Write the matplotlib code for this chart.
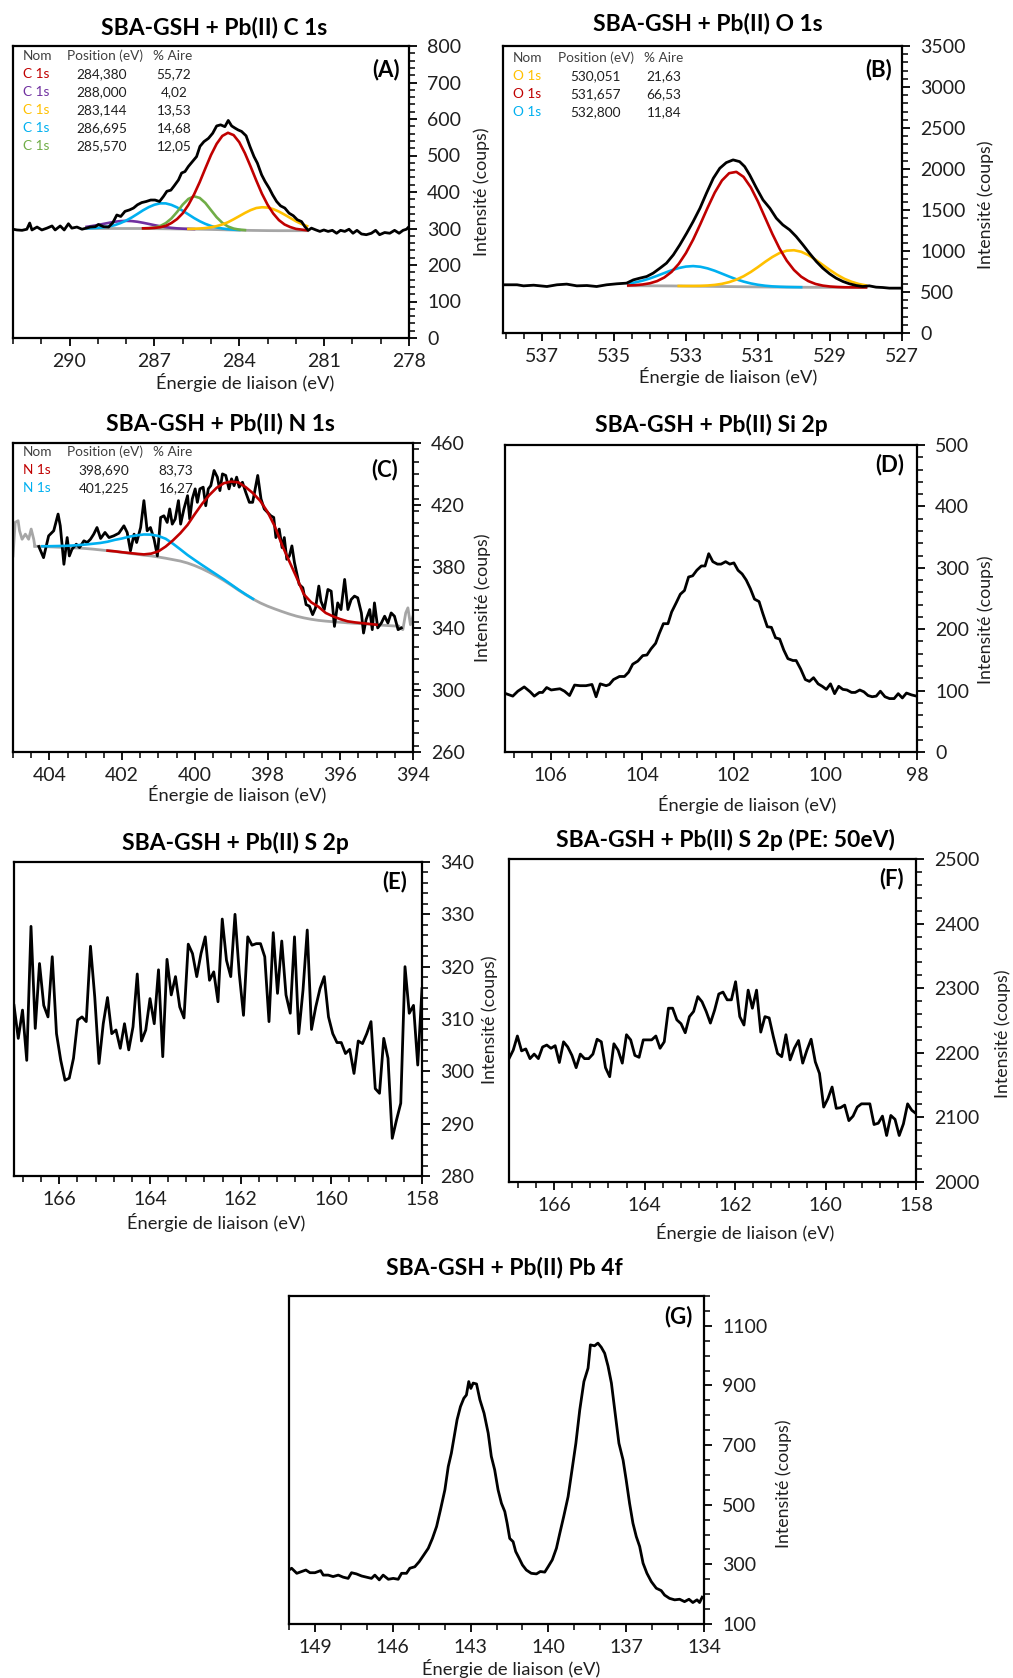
import numpy as np
import matplotlib
matplotlib.use("Agg")
import matplotlib.pyplot as plt
from matplotlib.ticker import MultipleLocator, FixedLocator

plt.rcParams['font.family'] = ['Lato', 'DejaVu Sans']

# ---------------- DATA ----------------
# Panel A : C 1s
a_e = [292.00, 291.86, 291.68, 291.51, 291.41, 291.33, 291.15, 290.98, 290.80, 290.62,
       290.51, 290.33, 290.19, 290.04, 289.92, 289.74, 289.56, 289.41, 289.27, 289.09,
       288.98, 288.80, 288.62, 288.47, 288.33, 288.19, 288.04, 287.88, 287.74, 287.60,
       287.45, 287.29, 287.13, 286.98, 286.82, 286.68, 286.56, 286.42, 286.31, 286.15,
       286.04, 285.92, 285.80, 285.65, 285.51, 285.39, 285.25, 285.09, 284.94, 284.80,
       284.66, 284.51, 284.39, 284.27, 284.15, 284.04, 283.92, 283.76, 283.62, 283.48,
       283.36, 283.21, 283.09, 282.94, 282.82, 282.68, 282.54, 282.39, 282.24, 282.09,
       281.95, 281.80, 281.68, 281.56, 281.45, 281.29, 281.15, 281.01, 280.86, 280.71,
       280.56, 280.42, 280.27, 280.12, 279.98, 279.84, 279.68, 279.51, 279.33, 279.18,
       279.04, 278.86, 278.68, 278.51, 278.35, 278.21, 278.09, 278.00]
a_i = [298, 296, 295, 298, 315, 296, 304, 296, 301, 307,
       296, 307, 296, 313, 301, 304, 298, 301, 304, 305,
       311, 305, 304, 316, 337, 333, 347, 351, 356, 365,
       371, 374, 378, 378, 374, 388, 402, 405, 416, 433,
       452, 456, 470, 484, 497, 525, 538, 547, 561, 581,
       584, 579, 596, 581, 575, 570, 566, 554, 524, 497,
       479, 447, 429, 410, 392, 374, 362, 356, 342, 335,
       324, 319, 305, 295, 301, 296, 292, 296, 292, 295,
       287, 295, 292, 298, 287, 295, 285, 283, 287, 295,
       283, 289, 287, 295, 287, 295, 298, 305]
a_grid = [289.4, 289.2, 289.0, 288.8, 288.6, 288.4, 288.2, 288.0, 287.8, 287.6,
          287.4, 287.2, 287.0, 286.8, 286.6, 286.4, 286.2, 286.0, 285.8, 285.6,
          285.4, 285.2, 285.0, 284.8, 284.6, 284.4, 284.2, 284.0, 283.8, 283.6,
          283.4, 283.2, 283.0, 282.8, 282.6, 282.4, 282.2, 282.0, 281.8, 281.6]
a_bg = [300, 300, 300, 300, 300, 300, 300, 300, 300, 300,
        300, 299.8, 299.6, 299.4, 299.2, 299.0, 298.8, 298.6, 298.4, 298.2,
        298.0, 297.7, 297.4, 297.0, 296.6, 296.2, 295.8, 295.4, 295.1, 294.8,
        294.6, 294.4, 294.2, 294.1, 294.0, 294.0, 294.0, 294.0, 294.0, 294.0]
a_red = [0, 0, 0, 0, 0, 0, 0, 0, 0, 0,
         0.5, 1, 2, 4, 8, 16, 27, 43, 66, 95,
         129, 167, 204, 235, 257, 266, 260, 241, 211, 175,
         137, 101, 71, 47, 29, 17, 10, 5, 3, 1]
a_purple = [4.6, 6.9, 9.6, 12.7, 15.7, 18.5, 20.3, 21, 20.3, 18.5,
            15.7, 12.7, 9.6, 6.9, 4.6, 2.8, 1.6, 0.9, 0.5, 0.2,
            0, 0, 0, 0, 0, 0, 0, 0, 0, 0,
            0, 0, 0, 0, 0, 0, 0, 0, 0, 0]
a_yellow = [0, 0, 0, 0, 0, 0, 0, 0, 0, 0,
            0, 0, 0, 0, 0, 0, 0, 0, 0.5, 1,
            2, 3.5, 6, 9.5, 14.5, 21, 29.5, 38.5, 47.5, 55.5,
            61.5, 63.8, 63.2, 59, 52.5, 44, 35, 26, 18.5, 12.3]
a_cyan = [0.5, 1, 1.8, 3.3, 5.8, 9.3, 14.8, 21.8, 30.3, 40,
          50, 58.8, 65.5, 69.5, 69.6, 65.7, 59, 50, 40.3, 30.5,
          22, 15, 9.5, 5.9, 3.4, 1.8, 1, 0.5, 0, 0,
          0, 0, 0, 0, 0, 0, 0, 0, 0, 0]
a_green = [0, 0, 0, 0, 0, 0, 0, 0, 0, 0,
           0.4, 1.1, 3, 7.3, 15.5, 28.5, 46.5, 66.8, 82.6, 90,
           85.8, 72.3, 52.9, 33.8, 19, 9.3, 4, 1.5, 0.5, 0,
           0, 0, 0, 0, 0, 0, 0, 0, 0, 0]
a_names = ['C 1s', 'C 1s', 'C 1s', 'C 1s', 'C 1s']
a_pos = ['284,380', '288,000', '283,144', '286,695', '285,570']
a_area = ['55,72', '4,02', '13,53', '14,68', '12,05']

# Panel B : O 1s
b_e = [538.05, 537.69, 537.51, 537.23, 536.86, 536.58, 536.31, 536.03, 535.75, 535.48,
       535.20, 534.92, 534.65, 534.46, 534.28, 534.09, 533.91, 533.72, 533.54, 533.35,
       533.17, 532.98, 532.80, 532.61, 532.43, 532.24, 532.06, 531.88, 531.69, 531.51,
       531.37, 531.23, 531.04, 530.86, 530.67, 530.49, 530.31, 530.12, 529.94, 529.75,
       529.57, 529.38, 529.20, 529.01, 528.83, 528.64, 528.46, 528.27, 528.09, 527.91,
       527.72, 527.54, 527.35, 527.17, 527.00]
b_i = [588, 588, 575, 583, 567, 588, 596, 575, 579, 567,
       588, 600, 608, 648, 669, 689, 730, 791, 852, 953,
       1075, 1217, 1359, 1522, 1705, 1887, 2009, 2078, 2111, 2090,
       2030, 1928, 1766, 1623, 1522, 1400, 1319, 1258, 1177, 1075,
       973, 872, 791, 722, 669, 628, 600, 579, 567, 575,
       559, 555, 547, 547, 547]
b_grid = [534.6, 534.4, 534.2, 534.0, 533.8, 533.6, 533.4, 533.2, 533.0, 532.8,
          532.6, 532.4, 532.2, 532.0, 531.8, 531.6, 531.4, 531.2, 531.0, 530.8,
          530.6, 530.4, 530.2, 530.0, 529.8, 529.6, 529.4, 529.2, 529.0, 528.8,
          528.6, 528.4, 528.2, 528.0]
b_bg = [576, 576, 576, 575.5, 575, 574.5, 574, 573, 572, 571,
        570, 569, 568, 567, 566, 565, 564, 563, 562, 561,
        560, 559.5, 559, 558.5, 558, 557.5, 557, 557, 556.5, 556.5,
        556, 556, 556, 556]
b_red = [3.5, 7.7, 16, 31, 58, 103, 171, 270, 403, 568,
         758, 957, 1144, 1293, 1383, 1400, 1340, 1214, 1041, 844,
         648, 470, 323, 210, 129, 75, 41, 21, 10.6, 5,
         2.2, 1, 0.3, 0.1]
b_yellow = [0, 0, 0, 0, 0, 0, 0, 0.5, 1, 2.4,
            5, 10, 18.5, 32.6, 54.4, 86, 128, 181, 242, 307,
            367, 416, 445, 451, 433, 393, 337, 274, 211, 153,
            105, 68.5, 42, 24.6]
b_cyan = [26, 41.7, 63, 90, 122.5, 157, 191, 219, 238, 245,
          238, 219, 191, 157, 122.5, 90, 63, 41.7, 26, 15.4,
          8.6, 4.5, 2.2, 1.1, 0.5, 0, 0, 0, 0, 0,
          0, 0, 0, 0]
b_names = ['O 1s', 'O 1s', 'O 1s']
b_pos = ['530,051', '531,657', '532,800']
b_area = ['21,63', '66,53', '11,84']

# Panel C : N 1s
c_e = [404.29, 404.16, 404.02, 403.88, 403.76, 403.70, 403.60, 403.51, 403.45, 403.38,
       403.26, 403.17, 403.05, 402.96, 402.87, 402.78, 402.69, 402.59, 402.47, 402.36,
       402.23, 402.09, 401.95, 401.86, 401.77, 401.67, 401.60, 401.49, 401.40, 401.31,
       401.22, 401.12, 401.03, 400.94, 400.85, 400.76, 400.69, 400.62, 400.54, 400.45,
       400.39, 400.30, 400.20, 400.14, 400.07, 399.99, 399.93, 399.86, 399.77, 399.70,
       399.63, 399.56, 399.47, 399.38, 399.31, 399.24, 399.15, 399.06, 398.99, 398.92,
       398.85, 398.78, 398.69, 398.60, 398.50, 398.41, 398.27, 398.18, 398.09, 398.00,
       397.91, 397.83, 397.77, 397.68, 397.60, 397.54, 397.47, 397.40, 397.33, 397.26,
       397.20, 397.13, 397.03, 396.94, 396.85, 396.76, 396.68, 396.59, 396.53, 396.44,
       396.34, 396.25, 396.16, 396.07, 395.98, 395.88, 395.79, 395.70, 395.61, 395.52,
       395.42, 395.36, 395.29, 395.19, 395.12, 395.06, 394.97, 394.87, 394.78, 394.69,
       394.60, 394.51, 394.41, 394.32]
c_i = [393.0, 385.8, 399.9, 403.2, 414.0, 406.4, 381.5, 398.8, 386.9, 391.2,
       394.5, 392.3, 396.7, 395.6, 397.7, 401.0, 405.3, 398.2, 402.1, 398.8,
       399.9, 401.6, 406.4, 402.1, 390.2, 401.0, 395.6, 405.3, 422.7, 403.2,
       405.3, 397.7, 386.9, 411.8, 412.9, 408.6, 417.3, 407.5, 410.8, 422.7,
       407.5, 417.3, 425.9, 410.8, 423.8, 430.3, 421.6, 430.3, 431.4, 419.4,
       430.3, 432.4, 442.2, 437.9, 429.2, 440.0, 439.0, 430.3, 436.8, 432.4,
       437.9, 431.4, 434.6, 428.1, 421.6, 421.6, 439.0, 423.8, 417.3, 415.1,
       412.9, 411.8, 398.8, 404.3, 392.3, 398.8, 384.7, 386.9, 393.4, 382.6,
       376.1, 368.5, 366.3, 355.4, 354.4, 348.9, 353.3, 367.4, 357.6, 352.2,
       365.2, 364.1, 341.3, 356.5, 352.2, 371.7, 352.2, 358.7, 360.9, 359.8,
       350.0, 337.0, 345.7, 352.2, 339.2, 356.5, 340.3, 343.5, 347.9, 343.5,
       350.0, 347.9, 339.2, 340.3]
c_edge_left_e = [405.0, 404.94, 404.86, 404.82, 404.75, 404.66, 404.57, 404.50, 404.43, 404.4]
c_edge_left_i = [386.9, 408.6, 409.7, 403.2, 397.7, 401.0, 397.7, 404.3, 397.7, 393.2]
c_edge_right_e = [394.4, 394.28, 394.20, 394.14, 394.07, 394.0]
c_edge_right_i = [341.4, 339.2, 350.0, 353.3, 342.4, 347.9]
c_grid = [404.4, 404.2, 404.0, 403.8, 403.6, 403.4, 403.2, 403.0, 402.8, 402.6,
          402.4, 402.2, 402.0, 401.8, 401.6, 401.4, 401.2, 401.0, 400.8, 400.6,
          400.4, 400.2, 400.0, 399.8, 399.6, 399.4, 399.2, 399.0, 398.8, 398.6,
          398.4, 398.2, 398.0, 397.8, 397.6, 397.4, 397.2, 397.0, 396.8, 396.6,
          396.4, 396.2, 396.0, 395.8, 395.6, 395.4, 395.2, 395.0, 394.8, 394.6,
          394.4]
c_bg = [393.2, 393.0, 392.8, 392.6, 392.4, 392.2, 392.0, 391.7, 391.3, 390.8,
        390.3, 389.8, 389.2, 388.6, 388.0, 387.4, 386.9, 386.2, 385.4, 384.5,
        383.6, 382.3, 380.6, 378.6, 376.3, 373.8, 371.0, 368.0, 364.8, 361.8,
        359.0, 356.5, 354.4, 352.6, 350.9, 349.3, 347.9, 346.8, 345.9, 345.2,
        344.7, 344.3, 344.0, 343.6, 343.3, 343.0, 342.7, 342.3, 342.0, 341.7,
        341.4]
c_red = [0, 0, 0, 0, 0, 0, 0, 0, 0, 0,
         0.05, 0.1, 0.1, 0.2, 0.3, 0.5, 1.5, 3.7, 7.6, 12.5,
         18, 24.7, 33.4, 42, 50, 57.2, 63, 67, 69.7, 69.6,
         68.5, 66, 61, 53.4, 43, 34, 25, 15.2, 11, 8.8,
         5.3, 3.5, 2, 1, 0.6, 0.4, 0.2, 0.1, 0, 0,
         0]
c_cyan = [0, 0.2, 0.4, 0.7, 1.0, 1.4, 1.9, 2.6, 3.5, 4.5,
          5.8, 7.5, 9.0, 10.8, 12.2, 13.4, 13.8, 13.6, 12.6, 10.3,
          7.6, 5.2, 3.6, 2.4, 1.6, 1.0, 0.7, 0.4, 0.3, 0.2,
          0.1, 0, 0, 0, 0, 0, 0, 0, 0, 0,
          0, 0, 0, 0, 0, 0, 0, 0, 0, 0,
          0]
c_names = ['N 1s', 'N 1s']
c_pos = ['398,690', '401,225']
c_area = ['83,73', '16,27']

# Panel D : Si 2p
d_e = [106.98, 106.83, 106.72, 106.58, 106.45, 106.36, 106.25, 106.18, 106.09, 105.99,
       105.90, 105.80, 105.70, 105.59, 105.48, 105.36, 105.23, 105.10, 105.01, 104.92,
       104.79, 104.72, 104.63, 104.50, 104.39, 104.30, 104.21, 104.10, 103.99, 103.90,
       103.81, 103.71, 103.63, 103.54, 103.44, 103.36, 103.26, 103.17, 103.08, 102.99,
       102.90, 102.81, 102.71, 102.63, 102.55, 102.46, 102.36, 102.28, 102.18, 102.09,
       102.00, 101.91, 101.82, 101.73, 101.64, 101.55, 101.45, 101.37, 101.27, 101.18,
       101.09, 101.00, 100.91, 100.82, 100.71, 100.64, 100.54, 100.44, 100.35, 100.26,
       100.16, 100.07, 99.98, 99.89, 99.80, 99.71, 99.62, 99.53, 99.43, 99.35,
       99.25, 99.16, 99.07, 98.98, 98.89, 98.80, 98.70, 98.60, 98.50, 98.41,
       98.32, 98.23, 98.12, 98.01]
d_i = [95, 91, 99, 106, 98, 91, 97, 97, 105, 101,
       102, 103, 99, 92, 109, 108, 108, 110, 90, 111,
       108, 110, 118, 123, 123, 130, 143, 148, 157, 158,
       168, 177, 193, 209, 209, 228, 243, 257, 263, 285,
       287, 296, 303, 303, 323, 310, 306, 306, 310, 306,
       308, 296, 290, 280, 266, 249, 245, 226, 204, 203,
       186, 184, 166, 152, 149, 149, 135, 118, 115, 121,
       111, 107, 102, 111, 95, 107, 102, 101, 97, 97,
       101, 98, 92, 90, 91, 99, 90, 87, 87, 95,
       88, 96, 93, 91]

# Panel E : S 2p
e_i = [312.6, 306.3, 311.7, 302.1, 327.7, 308.2, 320.6, 312.6, 310.4, 321.9,
       307.2, 302.1, 298.3, 298.7, 302.5, 309.8, 310.4, 309.5, 323.9, 314.2,
       301.5, 309.1, 314.1, 307.2, 307.9, 304.4, 309.1, 304.1, 308.5, 318.6,
       305.8, 307.9, 313.9, 309.1, 319.4, 302.8, 321.4, 314.6, 318.1, 312.3,
       310.2, 324.3, 322.5, 318.1, 322.5, 325.7, 317.4, 319.0, 313.3, 329.1,
       321.2, 318.1, 330.0, 318.7, 310.7, 325.7, 324.1, 324.4, 324.4, 321.9,
       309.5, 326.5, 314.9, 324.9, 314.6, 311.1, 325.7, 307.2, 315.5, 327.0,
       308.0, 312.3, 315.8, 318.1, 310.4, 307.2, 305.5, 305.5, 303.4, 304.2,
       299.6, 305.8, 305.3, 307.2, 309.5, 296.7, 295.8, 306.3, 302.5, 287.2,
       290.7, 293.9, 320.0, 311.1, 312.6, 301.2, 315.8]
e_e = np.linspace(167.0, 158.0, len(e_i))

# Panel F : S 2p (PE: 50eV)
f_i = [2191, 2204, 2226, 2203, 2206, 2191, 2198, 2191, 2209, 2212,
       2207, 2211, 2185, 2217, 2209, 2196, 2177, 2198, 2191, 2191,
       2198, 2221, 2217, 2177, 2163, 2214, 2204, 2184, 2228, 2220,
       2196, 2193, 2220, 2220, 2220, 2226, 2207, 2217, 2269, 2269,
       2251, 2245, 2231, 2256, 2264, 2287, 2279, 2264, 2246, 2266,
       2291, 2294, 2282, 2282, 2310, 2256, 2243, 2297, 2269, 2297,
       2232, 2256, 2254, 2225, 2199, 2194, 2228, 2189, 2207, 2219,
       2184, 2204, 2221, 2186, 2168, 2116, 2129, 2147, 2114, 2115,
       2119, 2095, 2102, 2116, 2121, 2121, 2121, 2089, 2091, 2102,
       2072, 2103, 2097, 2072, 2090, 2121, 2111, 2106]
f_e = np.linspace(167.0, 158.0, len(f_i))

# Panel G : Pb 4f
g_e = [150.00, 149.90, 149.70, 149.51, 149.35, 149.19, 149.00, 148.78, 148.68, 148.49,
       148.30, 148.10, 147.91, 147.72, 147.59, 147.40, 147.20, 147.01, 146.82, 146.69,
       146.52, 146.37, 146.17, 145.98, 145.79, 145.66, 145.47, 145.34, 145.15, 144.98,
       144.80, 144.63, 144.47, 144.31, 144.16, 143.99, 143.86, 143.74, 143.63, 143.52,
       143.39, 143.26, 143.16, 143.07, 142.99, 142.90, 142.77, 142.64, 142.48, 142.32,
       142.20, 142.07, 141.94, 141.81, 141.68, 141.59, 141.49, 141.36, 141.26, 141.13,
       141.00, 140.85, 140.66, 140.46, 140.31, 140.14, 140.01, 139.85, 139.69, 139.56,
       139.41, 139.24, 139.07, 138.94, 138.79, 138.63, 138.47, 138.38, 138.22, 138.09,
       137.96, 137.83, 137.70, 137.57, 137.41, 137.28, 137.12, 137.00, 136.87, 136.74,
       136.61, 136.48, 136.35, 136.20, 136.03, 135.84, 135.65, 135.52, 135.33, 135.13,
       134.94, 134.75, 134.58, 134.43, 134.27, 134.17, 134.07]
g_i = [281, 287, 270, 276, 281, 272, 272, 279, 264, 264,
       259, 264, 257, 253, 272, 268, 261, 257, 253, 264,
       248, 264, 250, 253, 250, 270, 270, 287, 292, 309,
       332, 354, 387, 427, 483, 550, 628, 673, 729, 785,
       829, 857, 868, 913, 890, 908, 905, 852, 807, 740,
       662, 617, 550, 505, 477, 438, 387, 376, 343, 321,
       298, 281, 270, 268, 276, 274, 292, 315, 354, 404,
       460, 527, 628, 706, 818, 913, 958, 1036, 1033, 1042,
       1028, 1008, 965, 908, 796, 706, 650, 583, 505, 438,
       393, 360, 304, 270, 242, 220, 212, 197, 186, 181,
       183, 175, 183, 172, 181, 172, 190]

titles = ['SBA-GSH + Pb(II) C 1s', 'SBA-GSH + Pb(II) O 1s', 'SBA-GSH + Pb(II) N 1s',
          'SBA-GSH + Pb(II) Si 2p', 'SBA-GSH + Pb(II) S 2p', 'SBA-GSH + Pb(II) S 2p (PE: 50eV)',
          'SBA-GSH + Pb(II) Pb 4f']
letters = ['(A)', '(B)', '(C)', '(D)', '(E)', '(F)', '(G)']
xlabel = 'Énergie de liaison (eV)'
ylabel = 'Intensité (coups)'

# ---------------- STYLE ----------------
RED = '#C00000'
PURPLE = '#7030A0'
YELLOW = '#FFC000'
CYAN = '#00B0F0'
GREEN = '#70AD47'
GRAY = '#A6A6A6'
TXT = '#1f1f1f'

W, H = 1013, 1678
fig = plt.figure(figsize=(W / 100, H / 100), dpi=100)


def px_axes(l, t, r, b):
    return fig.add_axes([l / W, 1 - b / H, (r - l) / W, (b - t) / H])


def ftext(x, y, s, **kw):
    fig.text(x / W, 1 - y / H, s, **kw)


def style(ax, xlim, ylim, xmaj, xmin, ymaj, ymin):
    ax.set_xlim(*xlim)
    ax.set_ylim(*ylim)
    ax.xaxis.set_major_locator(FixedLocator(xmaj))
    ax.xaxis.set_minor_locator(MultipleLocator(xmin))
    ax.yaxis.set_major_locator(FixedLocator(ymaj))
    ax.yaxis.set_minor_locator(MultipleLocator(ymin))
    ax.yaxis.tick_right()
    ax.tick_params(axis='both', which='major', direction='out', length=6, width=1.3,
                   labelsize=14, labelcolor=TXT)
    ax.tick_params(axis='both', which='minor', direction='out', length=4, width=1.1)
    ax.tick_params(axis='x', which='major', pad=5)
    ax.tick_params(axis='y', which='major', pad=7)
    for sp in ax.spines.values():
        sp.set_linewidth(1.6)


def comp(grid, bg, vals, color, ax):
    g = np.asarray(grid, float)
    b = np.asarray(bg, float)
    v = np.asarray(vals, float)
    y = np.where(v > 0, b + v, np.nan)
    ax.plot(g, y, color=color, lw=1.9, zorder=3)


def table(x_nom, x_pos, x_area, ys, names, pos, area, colors, hx_pos, hx_area):
    fs = 9.8
    ftext(x_nom, ys[0], 'Nom', fontsize=fs, color='#404040', ha='left', va='center')
    ftext(hx_pos, ys[0], 'Position (eV)', fontsize=fs, color='#404040', ha='center', va='center')
    ftext(hx_area, ys[0], '% Aire', fontsize=fs, color='#404040', ha='center', va='center')
    for k in range(len(names)):
        ftext(x_nom, ys[k + 1], names[k], fontsize=fs, color=colors[k], ha='left', va='center')
        ftext(x_pos, ys[k + 1], pos[k], fontsize=fs, color=TXT, ha='center', va='center')
        ftext(x_area, ys[k + 1], area[k], fontsize=fs, color=TXT, ha='center', va='center')


def decorate(title_xy, letter_xy, letter, title, xl_xy, yl_xy):
    ftext(*title_xy, title, fontsize=16.5, fontweight='bold', color='black', ha='center', va='center')
    ftext(*letter_xy, letter, fontsize=16, fontweight='bold', color='black', ha='right', va='center')
    ftext(*xl_xy, xlabel, fontsize=13.2, color=TXT, ha='center', va='center')
    ftext(*yl_xy, ylabel, fontsize=12.8, color=TXT, ha='center', va='center', rotation=90)


# ---------- Panel A ----------
axA = px_axes(13, 46, 409, 338)
axA.plot(a_grid, a_bg, color=GRAY, lw=2.0, zorder=2)
comp(a_grid, a_bg, a_purple, PURPLE, axA)
comp(a_grid, a_bg, a_cyan, CYAN, axA)
comp(a_grid, a_bg, a_green, GREEN, axA)
comp(a_grid, a_bg, a_yellow, YELLOW, axA)
comp(a_grid, a_bg, a_red, RED, axA)
axA.plot(a_e, a_i, color='black', lw=2.0, zorder=4)
style(axA, (292, 278), (0, 800), [290, 287, 284, 281, 278], 1, list(range(0, 801, 100)), 20)
decorate((214, 28), (400, 70), letters[0], titles[0], (245, 383), (482, 192))
table(23, 102, 174, [56, 74, 92, 110, 128, 146], a_names, a_pos, a_area,
      [RED, PURPLE, YELLOW, CYAN, GREEN], 105, 173)

# ---------- Panel B ----------
axB = px_axes(503, 46, 902, 333)
axB.plot(b_grid, b_bg, color=GRAY, lw=2.0, zorder=2)
comp(b_grid, b_bg, b_cyan, CYAN, axB)
comp(b_grid, b_bg, b_yellow, YELLOW, axB)
comp(b_grid, b_bg, b_red, RED, axB)
axB.plot(b_e, b_i, color='black', lw=2.0, zorder=4)
style(axB, (538.08, 527), (0, 3500), [537, 535, 533, 531, 529, 527], 0.5,
      list(range(0, 3501, 500)), 100)
decorate((708, 23), (892, 70), letters[1], titles[1], (728, 377), (986, 205))
table(513, 595, 664, [58, 76, 94, 112], b_names, b_pos, b_area,
      [YELLOW, RED, CYAN], 596, 664)

# ---------- Panel C ----------
axC = px_axes(13, 443, 413, 752)
axC.plot(c_edge_left_e, c_edge_left_i, color=GRAY, lw=2.0, zorder=2)
axC.plot(c_grid, c_bg, color=GRAY, lw=2.0, zorder=2)
axC.plot(c_edge_right_e, c_edge_right_i, color=GRAY, lw=2.0, zorder=2)
axC.plot(c_e, c_i, color='black', lw=2.0, zorder=3)
comp(c_grid, c_bg, c_cyan, CYAN, axC)
comp(c_grid, c_bg, c_red, RED, axC)
style(axC, (405, 394), (260, 460), [404, 402, 400, 398, 396, 394], 0.5,
      list(range(260, 461, 40)), 8)
decorate((220, 423), (398, 470), letters[2], titles[2], (237, 795), (483, 598))
table(23, 104, 176, [452, 470, 488], c_names, c_pos, c_area, [RED, CYAN], 105, 173)

# ---------- Panel D ----------
axD = px_axes(505, 445, 917, 752)
axD.plot(d_e, d_i, color='black', lw=2.0)
style(axD, (107, 98), (0, 500), [106, 104, 102, 100, 98], 0.4, list(range(0, 501, 100)), 20)
decorate((711, 425), (904, 465), letters[3], titles[3], (747, 805), (986, 620))

# ---------- Panel E ----------
axE = px_axes(14, 862, 422, 1176)
axE.plot(e_e, e_i, color='black', lw=2.0)
style(axE, (167, 158), (280, 340), [166, 164, 162, 160, 158], 0.4,
      list(range(280, 341, 10)), 2)
decorate((235, 843), (407, 882), letters[4], titles[4], (216, 1223), (490, 1020))

# ---------- Panel F ----------
axF = px_axes(509, 859, 916, 1182)
axF.plot(f_e, f_i, color='black', lw=2.0)
style(axF, (167, 158), (2000, 2500), [166, 164, 162, 160, 158], 0.4,
      list(range(2000, 2501, 100)), 20)
decorate((725, 840), (904, 879), letters[5], titles[5], (745, 1233), (1003, 1034))

# ---------- Panel G ----------
axG = px_axes(289, 1296, 704, 1624)
axG.plot(g_e, g_i, color='black', lw=2.0)
style(axG, (150, 134), (100, 1200), [149, 146, 143, 140, 137, 134], 1,
      [100, 300, 500, 700, 900, 1100], 50)
decorate((504, 1268), (693, 1317), letters[6], titles[6], (511, 1668), (784, 1484))

fig.savefig('out.png', dpi=100)
